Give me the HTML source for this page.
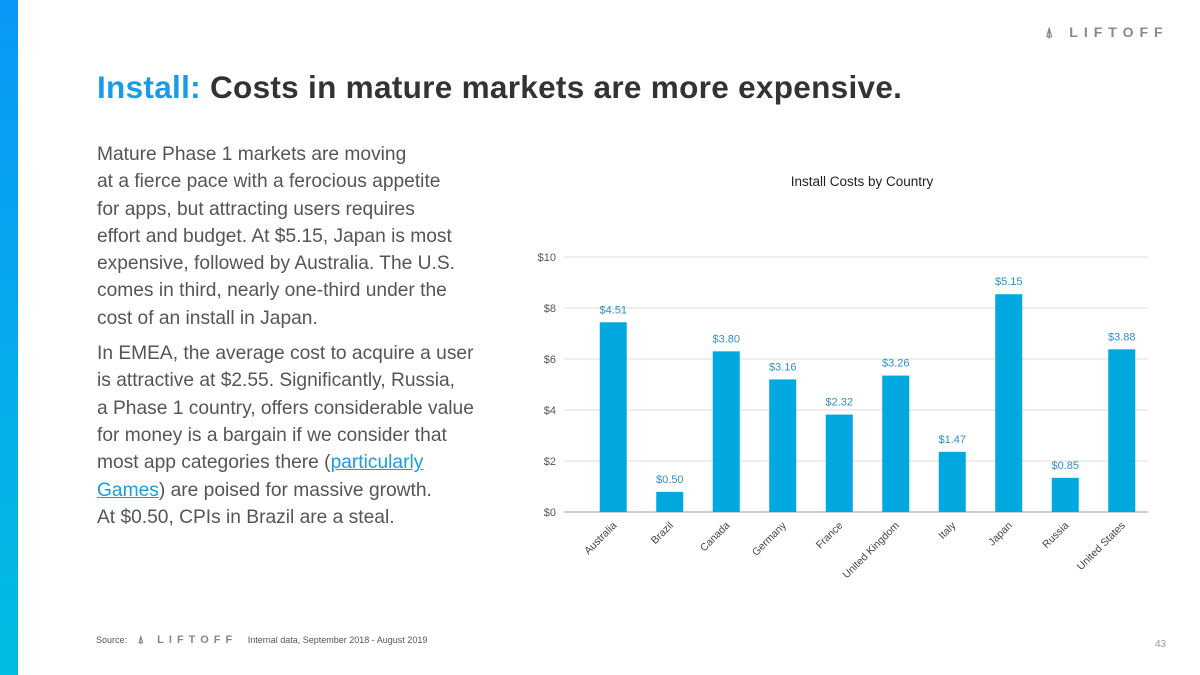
<!DOCTYPE html>
<html><head><meta charset="utf-8"><style>
body{margin:0;width:1200px;height:675px;overflow:hidden;background:#fff;font-family:"Liberation Sans",sans-serif;position:relative}
.side{position:absolute;left:0;top:0;width:18px;height:675px;background:linear-gradient(#0a98f8,#00bde2)}
.title{position:absolute;left:97px;top:69px;font-size:31.5px;font-weight:bold;color:#333;letter-spacing:0.3px;white-space:nowrap}
.title span{color:#1a9be6}
.body{position:absolute;left:97px;top:141px;width:420px;font-size:19.2px;line-height:27.3px;color:#555}
.body p{margin:0 0 8px 0}
.body a{color:#1a9be6;text-decoration:underline}
.logo{position:absolute;font-size:14px;letter-spacing:6px;color:#888;font-weight:bold}
.src{position:absolute;left:96px;top:634px;font-size:9px;color:#555}
.pg{position:absolute;left:1155px;top:639px;font-size:10px;color:#999}
</style></head><body>
<div class="side"></div>
<div class="logo" style="left:1045px;top:24px">⍋ LIFTOFF</div>
<div class="title"><span>Install:</span> Costs in mature markets are more expensive.</div>
<div class="body">
<p>Mature Phase 1 markets are moving<br>at a fierce pace with a ferocious appetite<br>for apps, but attracting users requires<br>effort and budget. At $5.15, Japan is most<br>expensive, followed by Australia. The U.S.<br>comes in third, nearly one-third under the<br>cost of an install in Japan.</p>
<p>In EMEA, the average cost to acquire a user<br>is attractive at $2.55. Significantly, Russia,<br>a Phase 1 country, offers considerable value<br>for money is a bargain if we consider that<br>most app categories there (<a>particularly<br>Games</a>) are poised for massive growth.<br>At $0.50, CPIs in Brazil are a steal.</p>
</div>
<svg id="chart" width="1200" height="675" style="position:absolute;left:0;top:0">
<text x="862" y="186" text-anchor="middle" font-size="13.5" fill="#222" font-family="Liberation Sans">Install Costs by Country</text>
</svg>
<div class="src">Source: <span style="font-size:11px;letter-spacing:5px;color:#888;font-weight:bold;margin:0 8px">⍋ LIFTOFF</span> Internal data, September 2018 - August 2019</div>
<div class="pg">43</div>
<script>
const categories=["Australia","Brazil","Canada","Germany","France","United Kingdom","Italy","Japan","Russia","United States"];
const barValues=[7.44,0.79,6.3,5.2,3.82,5.35,2.36,8.54,1.34,6.38];
const valueLabels=["$4.51","$0.50","$3.80","$3.16","$2.32","$3.26","$1.47","$5.15","$0.85","$3.88"];
const tickValues=[0,2,4,6,8,10];
const tickLabels=["$0","$2","$4","$6","$8","$10"];
const svg=document.getElementById('chart');const NS="http://www.w3.org/2000/svg";
const gx0=564,gx1=1148,bandLeft=585,bandRight=1150,y0=512,yTop=257;
const y=v=>y0-(v/10)*(y0-yTop);
const bw=(bandRight-bandLeft)/categories.length;
const xc=i=>bandLeft+bw*(i+0.5);
function mk(t,a){const e=document.createElementNS(NS,t);for(const k in a)e.setAttribute(k,a[k]);svg.appendChild(e);return e;}
tickValues.forEach((v,i)=>{
 const l=mk('line',{x1:gx0,x2:gx1,y1:y(v),y2:y(v),stroke:v===0?'#bbb':'#ddd','stroke-width':v===0?1.5:1});
 
 
 const t=mk('text',{x:gx0-8,y:y(v)+4,'text-anchor':'end','font-size':11,fill:'#555','font-family':'Liberation Sans'});
 t.textContent=tickLabels[i];
 
 
});
categories.forEach((c,i)=>{
 const b=mk('rect',{x:xc(i)-13.5,y:y(barValues[i]),width:27,height:y0-y(barValues[i]),fill:'#00a8e0'});
 
 
 const t=mk('text',{x:xc(i),y:y(barValues[i])-9,'text-anchor':'middle','font-size':11,fill:'#2f8fcc','font-family':'Liberation Sans'});
 t.textContent=valueLabels[i];
 
 
 const cx=xc(i)+4,cy=y0+14;
 const l=mk('text',{x:cx,y:cy,'text-anchor':'end','font-size':10.5,fill:'#444','font-family':'Liberation Sans',transform:`rotate(-45 ${cx} ${cy})`});
 l.textContent=c;
 
 
});
</script>
</body></html>
